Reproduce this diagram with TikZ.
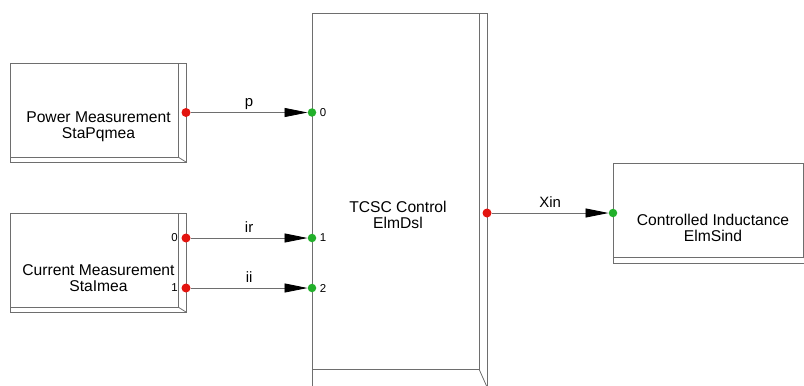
\documentclass[tikz,border=0pt]{standalone}
\usepackage{fontspec}
\setmainfont{Liberation Sans}
\usepackage{tikz}
\usepackage{xcolor}
\usetikzlibrary{arrows.meta,positioning,calc}
\definecolor{pfline}{HTML}{6E6E6E}
\definecolor{pfred}{HTML}{E3140F}
\definecolor{pfgreen}{HTML}{22B02A}

\begin{document}
\begin{tikzpicture}[x=1bp, y=-1bp,
    blk/.style={draw=pfline, line width=0.8bp, inner sep=0pt, outer sep=0pt},
    edge/.style={draw=pfline, line width=0.8bp},
    txt/.style={font=\fontsize{15.7}{16}\selectfont, align=center},
    outp/.style={circle, fill=pfred, inner sep=0pt, minimum size=9bp},
    inp/.style={circle, fill=pfgreen, inner sep=0pt, minimum size=8.5bp},
    num/.style={font=\fontsize{11.5}{13}\selectfont},
    sig/.style={draw=pfline, line width=0.8bp,
                -{Triangle[length=23bp, width=9bp, color=black]}},
    siglbl/.style={font=\fontsize{15}{17}\selectfont, anchor=base, yshift=6bp}
]
  \useasboundingbox (0,0) rectangle (804,385);
  \clip (0,0) rectangle (804,385);

  % Blocks
  \node[blk, minimum width=168bp, minimum height=94bp] (pwr) at (94,110) {};
  \draw[edge] (pwr.north east) -- ++(8,0) -- ($(pwr.south east)+(8,5)$) -- ($(pwr.south west)+(0,5)$) -- (pwr.south west);
  \draw[edge] (pwr.south east) -- ++(8,5);
  \node[txt] (pwr-t) at (98.5,127) {Power Measurement\\StaPqmea};

  \node[blk, minimum width=168bp, minimum height=94bp] (cur) at (94,260) {};
  \draw[edge] (cur.north east) -- ++(8,0) -- ($(cur.south east)+(8,5)$) -- ($(cur.south west)+(0,5)$) -- (cur.south west);
  \draw[edge] (cur.south east) -- ++(8,5);
  \node[txt] (cur-t) at (98.5,278) {Current Measurement\\StaImea};

  \node[blk, minimum width=167bp, minimum height=356bp] (tcsc) at (395.5,191) {};
  \draw[edge] (tcsc.north east) -- ++(8,0) -- ($(tcsc.south east)+(8,18)$) -- ($(tcsc.south west)+(0,18)$) -- (tcsc.south west);
  \draw[edge] (tcsc.south east) -- ++(8,18);
  \node[txt] (tcsc-t) at (398,214.5) {TCSC Control\\ElmDsl};

  \node[blk, minimum width=190bp, minimum height=94bp] (ind) at (708,210) {};
  \draw[edge] (ind.north east) -- ++(8,0) -- ($(ind.south east)+(8,6)$) -- ($(ind.south west)+(0,6)$) -- (ind.south west);
  \draw[edge] (ind.south east) -- ++(8,6);
  \node[txt] (ind-t) at (713,228) {Controlled Inductance\\ElmSind};

  % Ports
  \node[outp] (pwr-o) at (186,112.5) {};
  \node[outp] (cur-o0) at (186,238) {};
  \node[outp] (cur-o1) at (186,288) {};
  \node[outp] (tcsc-o) at (487,213) {};
  \node[inp] (tcsc-i0) at (312,112.5) {};
  \node[inp] (tcsc-i1) at (312,238) {};
  \node[inp] (tcsc-i2) at (312,288) {};
  \node[inp] (ind-i) at (613,213) {};

  \node[num, left=0pt of cur-o0] (cur-n0) {0};
  \node[num, left=0pt of cur-o1] (cur-n1) {1};
  \node[num, right=0pt of tcsc-i0] (tcsc-n0) {0};
  \node[num, right=0pt of tcsc-i1] (tcsc-n1) {1};
  \node[num, right=0pt of tcsc-i2] (tcsc-n2) {2};

  % Signals
  \draw[sig] (pwr-o) -- (tcsc-i0) node[siglbl, midway] {p};
  \draw[sig] (cur-o0) -- (tcsc-i1) node[siglbl, midway] {ir};
  \draw[sig] (cur-o1) -- (tcsc-i2) node[siglbl, midway] {ii};
  \draw[sig] (tcsc-o) -- (ind-i) node[siglbl, midway] {Xin};
\end{tikzpicture}
\end{document}
